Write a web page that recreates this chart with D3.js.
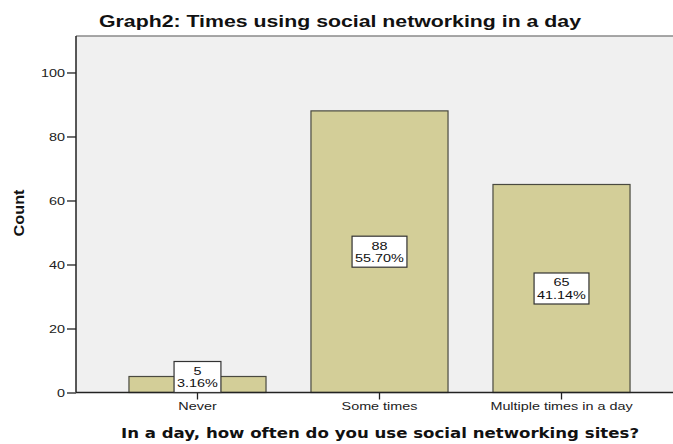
<!DOCTYPE html>
<html>
<head>
<meta charset="utf-8">
<script src="https://cdn.jsdelivr.net/npm/d3@7/dist/d3.min.js"></script>
<style>
html,body{margin:0;padding:0;background:#fff;}
svg{display:block;}
</style>
</head>
<body>
<svg id="chart" width="673" height="444"></svg>
<script>
const categories = ["Never", "Some times", "Multiple times in a day"];
const counts = [5, 88, 65];
const percents = ["3.16%", "55.70%", "41.14%"];
const yTicks = [0, 20, 40, 60, 80, 100];

(function () {
const svg = d3.select("#chart");
const W = 673, H = 444;
const mLeft = 76, mTop = 36, mBottom = 392.5;
const SX = 1.25; // horizontal text stretch seen in the reference
const FONT = "'Liberation Sans', Arial, sans-serif";

function stretch(sel, factor) {
  sel.each(function () {
    const len = this.getComputedTextLength();
    d3.select(this).attr("textLength", len * factor).attr("lengthAdjust", "spacingAndGlyphs");
  });
}

const y = d3.scaleLinear().domain([0, 111.4]).range([mBottom, mTop]);
const x = d3.scaleBand().domain(categories).range([mLeft, 683])
  .paddingInner(0.247).paddingOuter(0.291);

// plot background
svg.append("rect").attr("x", mLeft).attr("y", mTop).attr("width", W - mLeft + 5).attr("height", mBottom - mTop)
  .attr("fill", "#f0f0f0");
// top border
svg.append("line").attr("x1", mLeft).attr("x2", W).attr("y1", mTop).attr("y2", mTop)
  .attr("stroke", "#8a8a8a").attr("stroke-width", 1.5);

// bars
svg.selectAll("rect.bar").data(categories).enter().append("rect")
  .attr("class", "bar")
  .attr("x", d => x(d))
  .attr("width", x.bandwidth())
  .attr("y", (d, i) => y(counts[i]))
  .attr("height", (d, i) => y(0) - y(counts[i]))
  .attr("fill", "#d3ce98")
  .attr("stroke", "#4a4a40")
  .attr("stroke-width", 1.2);

// y axis
const yAxis = d3.axisLeft(y).tickValues(yTicks).tickSize(9).tickPadding(2).tickSizeOuter(0);
const ya = svg.append("g").attr("transform", `translate(${mLeft},0)`).call(yAxis);
ya.select(".domain").remove();
ya.selectAll("line").attr("stroke", "#222").attr("stroke-width", 1.3);
ya.selectAll("text").attr("font-family", FONT).attr("font-size", 11.5).attr("fill", "#222");
stretch(ya.selectAll("text"), SX);
svg.append("line").attr("x1", mLeft).attr("x2", mLeft).attr("y1", mTop).attr("y2", mBottom)
  .attr("stroke", "#222").attr("stroke-width", 1.5);

// x axis
const xAxis = d3.axisBottom(x).tickSize(7).tickPadding(2).tickSizeOuter(0);
const xa = svg.append("g").attr("transform", `translate(0,${mBottom})`).call(xAxis);
xa.select(".domain").remove();
xa.selectAll("line").attr("stroke", "#222").attr("stroke-width", 1.3);
xa.selectAll("text").attr("font-family", FONT).attr("font-size", 11.5).attr("fill", "#222");
stretch(xa.selectAll("text"), SX);
svg.append("line").attr("x1", mLeft).attr("x2", W).attr("y1", mBottom).attr("y2", mBottom)
  .attr("stroke", "#222").attr("stroke-width", 1.5);

// value labels
const boxH = 31;
categories.forEach((c, i) => {
  const cx = x(c) + x.bandwidth() / 2;
  let cy = (y(counts[i]) + y(0)) / 2;
  if (cy + boxH / 2 > mBottom) cy = mBottom - boxH / 2;
  const g = svg.append("g");
  const t1 = g.append("text").attr("x", cx).attr("y", cy - 2).attr("text-anchor", "middle")
    .attr("font-family", FONT).attr("font-size", 11).attr("fill", "#111").text(counts[i]);
  const t2 = g.append("text").attr("x", cx).attr("y", cy + 10.4).attr("text-anchor", "middle")
    .attr("font-family", FONT).attr("font-size", 11).attr("fill", "#111").text(percents[i]);
  stretch(t1, 1.31); stretch(t2, 1.31);
  const bw = Math.max(+t1.attr("textLength"), +t2.attr("textLength")) + 6;
  g.insert("rect", "text").attr("x", cx - bw / 2).attr("y", cy - boxH / 2).attr("width", bw).attr("height", boxH)
    .attr("fill", "#fff").attr("stroke", "#333").attr("stroke-width", 1.2);
});

// title
svg.append("text").attr("x", 99).attr("y", 27)
  .attr("font-family", FONT).attr("font-weight", "bold").attr("font-size", 17)
  .attr("fill", "#111").text("Graph2: Times using social networking in a day")
  .attr("textLength", 482).attr("lengthAdjust", "spacingAndGlyphs");

// y title
svg.append("text").attr("transform", "translate(24,213) rotate(-90)").attr("text-anchor", "middle")
  .attr("font-family", FONT).attr("font-weight", "bold").attr("font-size", 15)
  .attr("fill", "#111").text("Count")
  .attr("textLength", 47).attr("lengthAdjust", "spacingAndGlyphs");

// x title
svg.append("text").attr("x", 121).attr("y", 438)
  .attr("font-family", "'DejaVu Sans', sans-serif").attr("font-weight", "bold").attr("font-size", 14.5)
  .attr("fill", "#111").text("In a day, how often do you use social networking sites?")
  .attr("textLength", 518).attr("lengthAdjust", "spacingAndGlyphs");
})();
</script>
</body>
</html>
